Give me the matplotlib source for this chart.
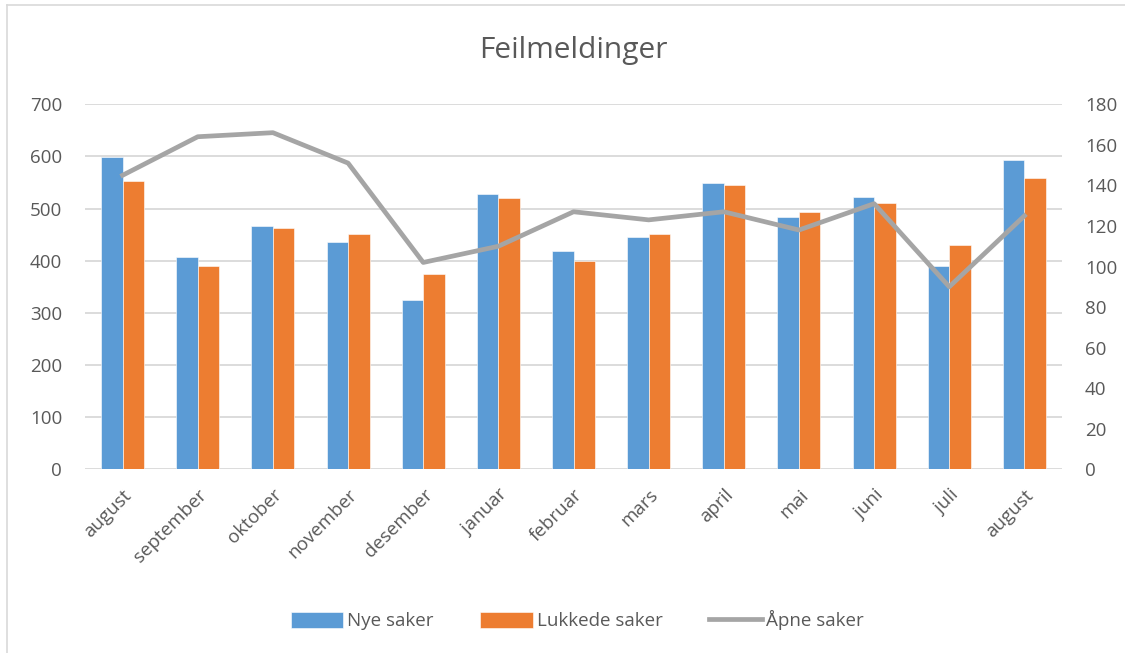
import matplotlib.pyplot as plt
import numpy as np
from matplotlib.lines import Line2D

plt.rcParams['font.family'] = ['Open Sans', 'DejaVu Sans']

# Data
months = ['august', 'september', 'oktober', 'november', 'desember', 'januar',
          'februar', 'mars', 'april', 'mai', 'juni', 'juli', 'august']
nye = [598, 408, 466, 436, 324, 527, 418, 446, 549, 484, 523, 389, 593]
lukkede = [552, 389, 463, 451, 374, 520, 400, 451, 545, 493, 510, 430, 558]
apne = [145, 164, 166, 151, 102, 110, 127, 123, 127, 118, 131, 90, 125]

blue = '#5b9bd5'
orange = '#ed7d31'
grey = '#a5a5a5'
text_col = '#595959'

fig = plt.figure(figsize=(11.25, 6.53), dpi=100)
ax = fig.add_axes([0.0756, 0.2813, 0.8684, 0.559])
ax2 = ax.twinx()

x = np.arange(len(months))
w = 0.286
b1 = ax.bar(x - w / 2, nye, w, color=blue, edgecolor='white', linewidth=0.4, label='Nye saker', zorder=2)
b2 = ax.bar(x + w / 2, lukkede, w, color=orange, edgecolor='white', linewidth=0.4, label='Lukkede saker', zorder=2)
l1, = ax2.plot(x, apne, color=grey, linewidth=3.4, label='Åpne saker')

ax.set_xlim(-0.5, len(months) - 0.5)
ax.set_ylim(0, 700)
ax2.set_ylim(0, 180)
ax.set_yticks(range(0, 701, 100))
ax2.set_yticks(range(0, 181, 20))
ax.grid(axis='y', color='#d9d9d9', linewidth=1.3, zorder=0)
ax.set_axisbelow(True)

for a in (ax, ax2):
    for s in a.spines.values():
        s.set_visible(False)
    a.tick_params(length=0, labelsize=13.5, labelcolor=text_col)
ax.tick_params(axis='y', pad=16.5)
ax2.tick_params(axis='y', pad=16.5)

ax.set_xticks(x)
ax.set_xticklabels(months, rotation=45, ha='right', rotation_mode='anchor')
ax.tick_params(axis='x', pad=12)

fig.text(0.51, 0.923, 'Feilmeldinger', ha='center', va='center', fontsize=21.5, color=text_col)

fig.legend([b1, b2, l1], ['Nye saker', 'Lukkede saker', 'Åpne saker'],
           loc='center', bbox_to_anchor=(0.513, 0.05), ncol=3, frameon=False,
           fontsize=13.5, labelcolor=text_col, handlelength=2.8, handleheight=0.9,
           columnspacing=2.5, handletextpad=0.2)

# chart area border (left and top visible)
fig.add_artist(Line2D([0.006, 0.006], [0.0, 0.992], transform=fig.transFigure,
                      color='#d9d9d9', linewidth=1.2))
fig.add_artist(Line2D([0.006, 1.0], [0.992, 0.992], transform=fig.transFigure,
                      color='#d9d9d9', linewidth=1.2))

fig.savefig('out.png', dpi=100)
